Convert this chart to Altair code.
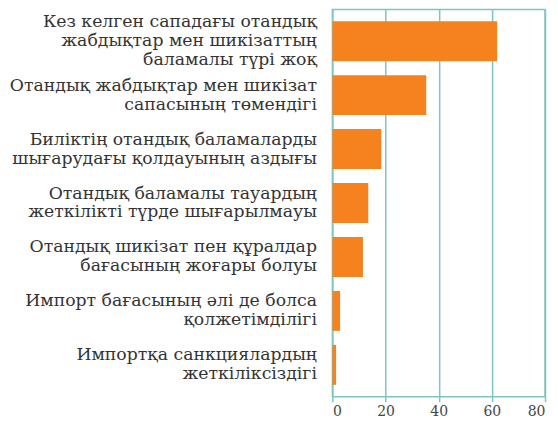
import altair as alt
import pandas as pd

categories = [
    "Кез келген сападағы отандық|жабдықтар мен шикізаттың|баламалы түрі жоқ",
    "Отандық жабдықтар мен шикізат|сапасының төмендігі",
    "Биліктің отандық баламаларды|шығарудағы қолдауының аздығы",
    "Отандық баламалы тауардың|жеткілікті түрде шығарылмауы",
    "Отандық шикізат пен құралдар|бағасының жоғары болуы",
    "Импорт бағасының әлі де болса|қолжетімділігі",
    "Импортқа санкциялардың|жеткіліксіздігі",
]
values = [62, 35.3, 18.4, 13.5, 11.5, 2.9, 1.4]
x_ticks = [0, 20, 40, 60, 80]

df = pd.DataFrame({"cat": categories, "val": values})

teal = "#7fc3c5"
font = "DejaVu Serif"

chart = (
    alt.Chart(df)
    .mark_bar(color="#f5821f")
    .encode(
        x=alt.X(
            "val:Q",
            scale=alt.Scale(domain=[0, 80], nice=False),
            axis=alt.Axis(
                values=x_ticks,
                title=None,
                grid=True,
                gridColor=teal,
                gridWidth=1.5,
                domain=False,
                ticks=True,
                tickColor=teal,
                tickWidth=1.5,
                tickSize=5,
                labelFont=font,
                labelFontSize=14,
                labelColor="#444444",
                labelPadding=3,
            ),
        ),
        y=alt.Y(
            "cat:N",
            sort=categories,
            scale=alt.Scale(paddingInner=0.26, paddingOuter=0.22),
            axis=alt.Axis(
                title=None,
                domain=False,
                ticks=False,
                labelExpr="split(datum.label, '|')",
                labelFont=font,
                labelFontSize=17.3,
                labelColor="#333333",
                labelPadding=16,
                labelLineHeight=19,
                labelBaseline="middle",
                labelOffset=alt.condition(
                    "indexof(datum.value, 'баламалы түрі') >= 0",
                    alt.value(-19),
                    alt.value(-9.5),
                ),
                labelLimit=400,
            ),
        ),
    )
    .properties(
        width=213,
        height=388,
        autosize=alt.AutoSizeParams(type="none"),
        padding={"left": 325, "top": 1, "right": 5, "bottom": 24},
    )
    .configure_view(stroke=teal, strokeWidth=1.5)
)

chart.save("out.html", embed_options={"renderer": "svg", "actions": False})
